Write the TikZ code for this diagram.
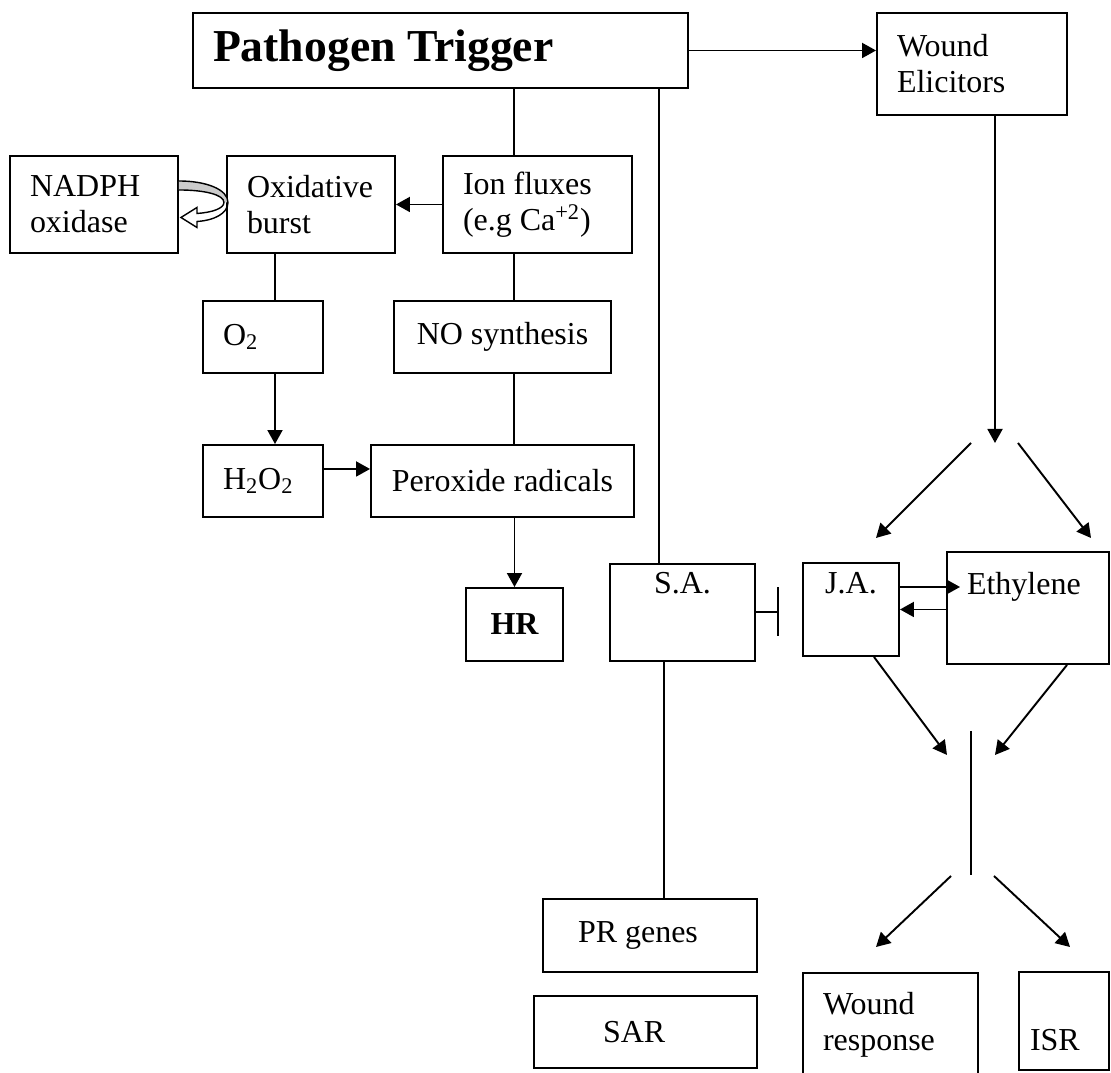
\documentclass[tikz,border=0pt]{standalone}
\usepackage{fontspec}
\setmainfont{Liberation Serif}
\usetikzlibrary{arrows.meta}

\begin{document}
\begin{tikzpicture}[
    font=\fontsize{18.2}{20.5}\selectfont,
    box/.style={rectangle, draw=black, line width=1.1pt, inner sep=0pt},
    lbox/.style={box, align=left, inner xsep=0.4cm,
                 execute at begin node={\spaceskip=0pt\xspaceskip=0pt}},
    cbox/.style={box, align=center},
    arr/.style={-{Triangle[length=0.28cm, width=0.3cm]}, line width=1.1pt},
    ln/.style={line width=1.1pt},
    inh/.style={-{Bar[width=0.98cm]}, line width=1.1pt}
]
\useasboundingbox (0,0) rectangle (22.22,21.46);

% ---- Triggers ----
\node[lbox, text width=9.10cm, minimum height=1.50cm, font=\fontsize{26}{30}\selectfont\bfseries] (path) at (8.81,20.45) {Pathogen Trigger};
\node[lbox, text width=3.00cm, minimum height=2.04cm] (wound) at (19.44,20.18) {Wound\\Elicitors};
\draw[arr] (path.east) -- (path.east -| wound.west);

% ---- Oxidative branch ----
\node[lbox, text width=2.56cm, minimum height=1.94cm] (nadph) at (1.88,17.37) {NADPH\\oxidase};
\node[lbox, text width=2.56cm, minimum height=1.94cm] (oxid) at (6.22,17.37) {Oxidative\\burst};
\node[lbox, text width=2.98cm, minimum height=1.94cm] (ion) at (10.75,17.37) {Ion fluxes\\(e.g Ca\textsuperscript{+2})};
\node[lbox, text width=1.60cm, minimum height=1.44cm] (o2) at (5.26,14.72) {O\textsubscript{2}};
\node[cbox, minimum width=4.34cm, minimum height=1.44cm] (nosyn) at (10.05,14.72) {NO synthesis};
\node[lbox, text width=1.60cm, minimum height=1.44cm] (h2o2) at (5.26,11.84) {H\textsubscript{2}O\textsubscript{2}};
\node[cbox, minimum width=5.26cm, minimum height=1.44cm] (perox) at (10.05,11.84) {Peroxide radicals};
\node[cbox, minimum width=1.94cm, minimum height=1.46cm, font=\fontsize{18.2}{20.5}\selectfont\bfseries] (hr) at (10.29,8.97) {HR};

\coordinate (oxcol) at (5.50,0);
\coordinate (midcol) at (10.28,0);

\draw[ln] (path.south -| midcol) -- (ion.north -| midcol);
\draw[arr] (ion.west) -- (oxid.east);
\draw[ln] (oxid.south -| oxcol) -- (o2.north -| oxcol);
\draw[ln] (ion.south -| midcol) -- (nosyn.north -| midcol);
\draw[arr] (o2.south -| oxcol) -- (h2o2.north -| oxcol);
\draw[arr] ([yshift=0.24cm]h2o2.east) -- ([yshift=0.24cm]h2o2.east -| perox.west);
\draw[ln] (nosyn.south -| midcol) -- (perox.north -| midcol);
\draw[arr] (perox.south -| hr.north) -- (hr.north);

% curly arrow back into NADPH oxidase
\begin{scope}[shift={(nadph.east)}]
\fill[gray!40] (0,0.47) .. controls (0.55,0.47) and (0.98,0.30) .. (0.98,0.04)
    -- (0.90,0.04) .. controls (0.90,0.20) and (0.50,0.29) .. (0,0.29) -- cycle;
\draw[line width=0.8pt] (0,0.47) .. controls (0.55,0.47) and (0.98,0.30) .. (0.98,0.04)
    .. controls (0.98,-0.18) and (0.70,-0.32) .. (0.36,-0.34) -- (0.36,-0.46) -- (0.04,-0.26)
    -- (0.36,-0.06) -- (0.36,-0.18) .. controls (0.66,-0.16) and (0.90,-0.08) .. (0.90,0.04)
    .. controls (0.90,0.20) and (0.50,0.29) .. (0,0.29);
\end{scope}

% ---- Hormone branch ----
\node[cbox, minimum width=2.90cm, minimum height=1.94cm, text depth=1.18cm] (sa) at (13.65,9.21) {S.A.};
\node[cbox, minimum width=1.92cm, minimum height=1.86cm, text depth=1.06cm] (ja) at (17.02,9.27) {J.A.};
\node[lbox, text width=2.44cm, minimum height=2.24cm, text depth=1.0cm] (eth) at (20.56,9.30) {Ethylene};

\coordinate (sacol) at (13.18,0);
\coordinate (prcol) at (13.28,0);
\coordinate (inhib) at (15.58,9.22);
\draw[ln] (path.south -| sacol) -- (sa.north -| sacol);
\draw[inh] (sa.east |- inhib) -- (inhib);
\draw[arr] ([yshift=0.45cm]ja.east) -- ([yshift=0.45cm, xshift=0.28cm]ja.east -| eth.west);
\draw[arr] (eth.west |- ja.east) -- (ja.east);

% fork under Wound Elicitors
\coordinate (split) at (19.90,12.60);
\coordinate (forkl) at (19.42,12.60);
\coordinate (forkr) at (20.36,12.60);
\coordinate (jatop) at (17.52,10.70);
\coordinate (ethtop) at (21.82,10.70);
\draw[arr] ([xshift=0.46cm]wound.south) -- (split);
\draw[arr] (forkl) -- (jatop);
\draw[arr] (forkr) -- (ethtop);

% merge of J.A. and Ethylene
\coordinate (mergel) at (18.94,6.36);
\coordinate (merger) at (19.90,6.36);
\coordinate (mtop) at (19.42,6.84);
\coordinate (mbot) at (19.42,3.96);
\coordinate (outl) at (19.02,3.94);
\coordinate (outr) at (19.88,3.94);
\coordinate (wrtop) at (17.52,2.52);
\coordinate (isrtop) at (21.40,2.52);
\draw[arr] ([xshift=0.46cm]ja.south) -- (mergel);
\draw[arr] ([xshift=0.78cm]eth.south) -- (merger);
\draw[ln] (mtop) -- (mbot);
\draw[arr] (outl) -- (wrtop);
\draw[arr] (outr) -- (isrtop);

% ---- Outputs ----
\node[lbox, inner xsep=0.7cm, text width=2.88cm, minimum height=1.46cm] (prg) at (13.00,2.75) {PR genes};
\node[lbox, inner xsep=1.38cm, text width=1.70cm, minimum height=1.44cm] (sar) at (12.91,0.82) {SAR};
\node[lbox, text width=2.70cm, minimum height=2.06cm] (wresp) at (17.81,0.97) {Wound\\response};
\node[lbox, inner xsep=0.22cm, text width=1.36cm, minimum height=1.96cm, text height=1.19cm] (isr) at (21.28,1.04) {ISR};
\draw[ln] (sa.south -| prcol) -- (prg.north -| prcol);

\end{tikzpicture}
\end{document}
